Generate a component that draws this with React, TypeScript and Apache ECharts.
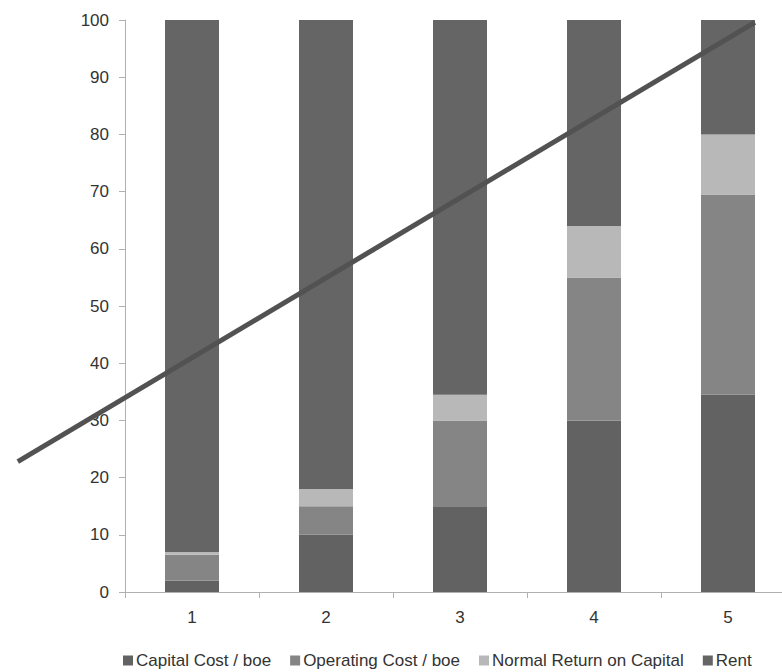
import React, { useEffect, useRef } from "react";
import * as echarts from "echarts";

const categories = ["1", "2", "3", "4", "5"];
const capitalCost = [2, 10, 15, 30, 34.5];
const operatingCost = [4.5, 5, 15, 25, 35];
const normalReturn = [0.5, 3, 4.5, 9, 10.5];
const rent = [93, 82, 65.5, 36, 20];
// trend line endpoints: [category position (0 = first bar), value]
const trendLine: [number, number][] = [
  [-1.3, 22.8],
  [4.2, 99.6],
];

const FONT = "'Liberation Sans Narrow', 'Liberation Sans', Arial, sans-serif";

export default function App() {
  const ref = useRef<HTMLDivElement>(null);
  useEffect(() => {
    document.body.style.margin = "0";
    const chart = echarts.init(ref.current!, null, { renderer: "svg" });
    const barBase = { type: "bar", stack: "total", barWidth: 54, xAxisIndex: 0, yAxisIndex: 0 };
    chart.setOption({
      animation: false,
      backgroundColor: "#ffffff",
      grid: [
        { left: 125, top: 20, width: 670, height: 572 },
        { left: 0, top: 20, width: 795, height: 572 },
      ],
      legend: {
        top: 647,
        left: 118,
        itemWidth: 10,
        itemHeight: 10,
        itemGap: 19,
        icon: "rect",
        textStyle: { fontFamily: FONT, fontSize: 17, color: "#333", padding: [0, 0, 0, -2] },
        data: ["Capital Cost / boe", "Operating Cost / boe", "Normal Return on Capital", "Rent"],
      },
      xAxis: [
        {
          type: "category",
          gridIndex: 0,
          data: categories,
          axisLine: { lineStyle: { color: "#b0b0b0", width: 1 } },
          axisTick: { show: true, length: 6, lineStyle: { color: "#b0b0b0" } },
          axisLabel: { fontFamily: FONT, fontSize: 17, color: "#333", margin: 17 },
        },
        {
          type: "value",
          gridIndex: 1,
          min: -0.5 - 125 / 134,
          max: 4.5,
          show: false,
        },
      ],
      yAxis: [
        {
          type: "value",
          gridIndex: 0,
          min: 0,
          max: 100,
          interval: 10,
          splitLine: { show: false },
          axisLine: { show: true, lineStyle: { color: "#b0b0b0" } },
          axisTick: { show: true, length: 6, lineStyle: { color: "#b0b0b0" } },
          axisLabel: { fontFamily: FONT, fontSize: 17, color: "#333", margin: 16 },
        },
        {
          type: "value",
          gridIndex: 1,
          min: 0,
          max: 100,
          show: false,
        },
      ],
      series: [
        { ...barBase, name: "Capital Cost / boe", data: capitalCost, itemStyle: { color: "#626262" } },
        { ...barBase, name: "Operating Cost / boe", data: operatingCost, itemStyle: { color: "#858585" } },
        { ...barBase, name: "Normal Return on Capital", data: normalReturn, itemStyle: { color: "#b8b8b8" } },
        { ...barBase, name: "Rent", data: rent, itemStyle: { color: "#656565" } },
        {
          type: "line",
          xAxisIndex: 1,
          yAxisIndex: 1,
          data: trendLine,
          symbol: "none",
          lineStyle: { color: "#525252", width: 5 },
          z: 10,
        },
      ],
    });
    return () => chart.dispose();
  }, []);
  return (
    <div style={{ width: 782, height: 672, overflow: "hidden", position: "relative" }}>
      <div ref={ref} style={{ width: 800, height: 672 }} />
    </div>
  );
}
